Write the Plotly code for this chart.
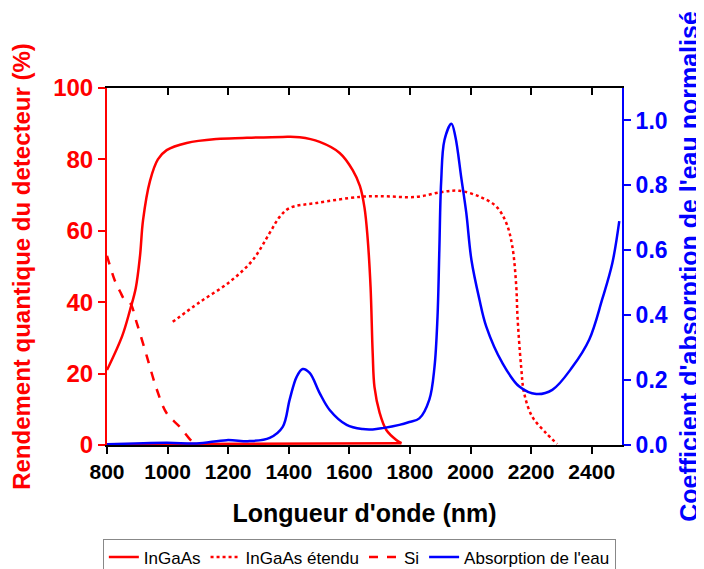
import plotly.graph_objects as go

# InGaAs (solid)
ingaas_x = [800, 850, 876, 895, 909, 919, 942, 968, 997, 1063, 1162, 1248, 1380, 1436, 1502, 1568, 1611, 1635, 1650, 1660, 1670, 1677, 1683, 1700, 1722, 1755, 1772]
ingaas_y = [21, 30.5, 37.8, 44, 53, 63, 74, 80, 82.6, 84.6, 85.7, 86, 86.3, 86.2, 84.9, 81.8, 77, 72.5, 66.5, 58.3, 44.3, 25.8, 16.2, 9, 4.2, 1.4, 0.5]
# InGaAs baseline segment (solid, along zero)
ingaas_base_x = [1772, 1300, 800]
ingaas_base_y = [0.5, 0.35, 0.2]

# InGaAs étendu (dotted)
ext_x = [1017, 1106, 1205, 1281, 1337, 1370, 1403, 1492, 1634, 1700, 1821, 1907, 1963, 2029, 2085, 2118, 2138, 2151, 2155, 2167, 2177, 2204, 2250, 2286]
ext_y = [34.5, 40, 45.7, 51.8, 59.4, 63.9, 66.4, 67.8, 69.5, 69.7, 69.5, 70.9, 71.2, 69.6, 66.8, 62.2, 55.6, 44.4, 36, 22, 14.5, 7.9, 3.3, 0.3]

# Si (dashed)
si_x = [800, 826, 843, 859, 876, 899, 932, 965, 997, 1040, 1083, 1096]
si_y = [53, 46, 43, 40.6, 39.8, 34, 24.7, 15.4, 8.9, 5.1, 0.8, 0.2]

# Water absorption (normalised, right axis)
water_x = [800, 997, 1096, 1195, 1271, 1337, 1380, 1403, 1426, 1446, 1469, 1502, 1535, 1591, 1644, 1677, 1710, 1765, 1798,
           1831, 1864, 1881, 1891, 1897, 1903, 1914, 1937, 1950, 1970, 1986, 2003, 2029, 2052, 2105, 2161,
           2217, 2270, 2336, 2392, 2435, 2468, 2491]
water_y = [0.002, 0.007, 0.005, 0.015, 0.012, 0.022, 0.056, 0.14, 0.21, 0.234, 0.222, 0.16, 0.108, 0.062, 0.049, 0.048, 0.052, 0.062, 0.071,
           0.082, 0.14, 0.24, 0.395, 0.60, 0.81, 0.94, 0.99, 0.95, 0.82, 0.715, 0.57, 0.45, 0.365, 0.253, 0.18,
           0.157, 0.17, 0.24, 0.325, 0.45, 0.56, 0.69]

x_ticks = [800, 1000, 1200, 1400, 1600, 1800, 2000, 2200, 2400]
left_ticks = [0, 20, 40, 60, 80, 100]
right_ticks = [0.0, 0.2, 0.4, 0.6, 0.8, 1.0]

RED = "#ff0000"
BLUE = "#0000ff"
FONT = "Liberation Sans, Arial, sans-serif"
SM = 1.0

fig = go.Figure()
fig.add_trace(go.Scatter(x=ingaas_x, y=ingaas_y, mode="lines", name="InGaAs",
                         line=dict(color=RED, width=2.5, shape="spline", smoothing=SM),
                         legendgroup="ingaas"))
fig.add_trace(go.Scatter(x=ext_x, y=ext_y, mode="lines", name="InGaAs étendu",
                         line=dict(color=RED, width=2.5, dash="dot", shape="spline", smoothing=SM)))
fig.add_trace(go.Scatter(x=si_x, y=si_y, mode="lines", name="Si",
                         line=dict(color=RED, width=2.5, dash="dash", shape="spline", smoothing=SM)))
fig.add_trace(go.Scatter(x=water_x, y=water_y, mode="lines", name="Absorption de l'eau",
                         line=dict(color=BLUE, width=2.5, shape="spline", smoothing=SM), yaxis="y2"))
fig.add_trace(go.Scatter(x=ingaas_base_x, y=ingaas_base_y, mode="lines", showlegend=False,
                         legendgroup="ingaas", line=dict(color=RED, width=2.5)))
# invisible trace to anchor top mirror axis
fig.add_trace(go.Scatter(x=[x_ticks[0]], y=[left_ticks[0]], xaxis="x2", mode="markers",
                         marker=dict(opacity=0), showlegend=False, hoverinfo="skip"))

fig.update_layout(
    width=704, height=569,
    margin=dict(l=99, r=90, t=80, b=132, autoexpand=False),
    paper_bgcolor="white", plot_bgcolor="white",
    font=dict(family=FONT, color="black"),
    showlegend=True,
    legend=dict(orientation="h", x=0.49, xanchor="center", y=-0.262, yanchor="top",
                bordercolor="#888888", borderwidth=1, font=dict(size=17, family=FONT),
                traceorder="normal"),
    xaxis=dict(range=[800, 2500], tickvals=x_ticks, ticks="outside", ticklen=7, tickwidth=2,
               tickcolor="black", showline=True, linecolor="black", linewidth=2,
               showgrid=False, zeroline=False, automargin=False,
               tickfont=dict(size=21, family=FONT, color="black", weight="bold"),
               title=dict(text="<b>Longueur d'onde (nm)</b>", font=dict(size=25, family=FONT), standoff=22)),
    xaxis2=dict(range=[800, 2500], overlaying="x", side="top", tickvals=x_ticks, ticks="inside",
                ticklen=7, tickwidth=2, tickcolor="black", showline=True, linecolor="black",
                linewidth=2, showticklabels=False, showgrid=False, zeroline=False, automargin=False),
    yaxis=dict(range=[0, 100], tickvals=left_ticks, ticks="outside", ticklen=7, tickwidth=2,
               tickcolor=RED, showline=True, linecolor=RED, linewidth=2, showgrid=False, zeroline=False,
               automargin=False,
               tickfont=dict(size=24, family=FONT, color=RED, weight="bold"),
               title=dict(text="<b>Rendement quantique du detecteur (%)</b>",
                          font=dict(size=24, family=FONT, color=RED), standoff=17)),
    yaxis2=dict(range=[0, 1.1], tickvals=right_ticks, tickformat=".1f", overlaying="y", side="right",
                ticks="outside", ticklen=7, tickwidth=2, tickcolor=BLUE, showline=True, linecolor=BLUE,
                linewidth=2, showgrid=False, zeroline=False, automargin=False,
                tickfont=dict(size=23, family=FONT, color=BLUE, weight="bold"),
                title=dict(text="<b>Coefficient d'absorption de l'eau normalisé</b>",
                           font=dict(size=25, family=FONT, color=BLUE), standoff=14)),
)

fig.write_html("out.html")
